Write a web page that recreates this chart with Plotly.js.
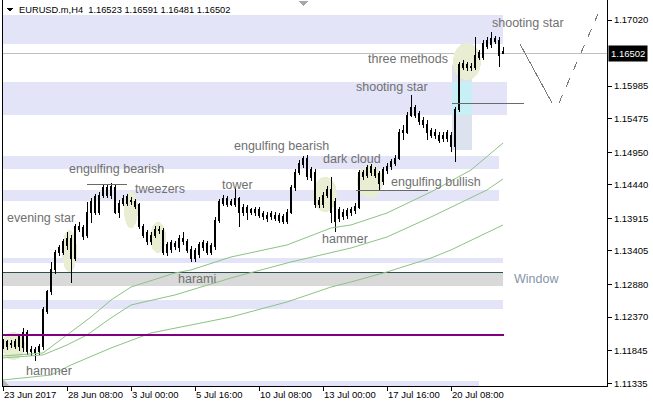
<!DOCTYPE html>
<html>
<head>
<meta charset="utf-8">
<script src="https://cdn.plot.ly/plotly-3.0.1.min.js"></script>
<style>html,body{margin:0;padding:0;background:#fff;}#chart{width:653px;height:407px;}
#chart .boxlayer path{shape-rendering:crispEdges;}
#chart .shapelayer path{shape-rendering:crispEdges;}
</style>
</head>
<body>
<div id="chart"></div>
<script>
// ---- Data (EURUSD.m H4) ----
const openP = [1.11934,1.11981,1.11965,1.11918,1.11918,1.11887,1.12122,1.11825,1.11856,1.11825,
1.11903,1.12451,1.12764,1.13108,1.13452,1.13389,1.13484,1.13608,1.13295,1.13749,
1.13765,1.13640,1.14015,1.14250,1.14015,1.14281,1.14406,1.14266,1.14406,1.14015,
1.14156,1.14156,1.14203,1.14172,1.14125,1.13781,1.13687,1.13546,1.13655,1.13718,
1.13718,1.13389,1.13421,1.13515,1.13452,1.13608,1.13546,1.13436,1.13405,1.13343,
1.13452,1.13515,1.13389,1.13468,1.13890,1.14156,1.14234,1.14172,1.14125,1.14219,
1.14093,1.14000,1.14047,1.14000,1.14047,1.13984,1.13906,1.13984,1.13968,1.13953,
1.13937,1.13874,1.14015,1.14391,1.14641,1.14751,1.14860,1.14673,1.14641,1.14203,
1.14125,1.14281,1.14375,1.14172,1.14047,1.13937,1.13953,1.14000,1.14031,1.14093,
1.14563,1.14594,1.14720,1.14673,1.14610,1.14485,1.14657,1.14720,1.14782,1.14860,
1.15252,1.15267,1.15533,1.15643,1.15549,1.15455,1.15392,1.15283,1.15267,1.15220,
1.15158,1.15158,1.15220,1.15033,1.15612,1.16347,1.16316,1.16269,1.16284,1.16441,
1.16441,1.16613,1.16629,1.16691,1.16707,1.16523];
const highP = [1.12028,1.12012,1.12012,1.12028,1.12106,1.12200,1.12169,1.11918,1.11903,1.11950,
1.12529,1.12795,1.13233,1.13421,1.13499,1.13593,1.13702,1.13655,1.13828,1.13859,
1.13812,1.14172,1.14234,1.14297,1.14328,1.14438,1.14453,1.14469,1.14438,1.14203,
1.14281,1.14297,1.14250,1.14219,1.14156,1.13828,1.13734,1.13702,1.13796,1.13796,
1.13765,1.13546,1.13577,1.13562,1.13655,1.13702,1.13593,1.13484,1.13452,1.13546,
1.13577,1.13562,1.13531,1.13937,1.14219,1.14281,1.14266,1.14219,1.14391,1.14250,
1.14140,1.14125,1.14078,1.14093,1.14093,1.14031,1.14015,1.14031,1.14015,1.14000,
1.13984,1.14062,1.14438,1.14688,1.14829,1.14892,1.14907,1.14720,1.14688,1.14250,
1.14328,1.14422,1.14563,1.14234,1.14093,1.14062,1.14078,1.14093,1.14156,1.14673,
1.14673,1.14751,1.14766,1.14720,1.14657,1.14720,1.14782,1.14845,1.14907,1.15314,
1.15377,1.15580,1.15846,1.15690,1.15596,1.15502,1.15455,1.15330,1.15314,1.15267,
1.15267,1.15299,1.15267,1.15658,1.16363,1.16394,1.16363,1.16347,1.16754,1.16551,
1.16707,1.16754,1.16833,1.16770,1.16754,1.16591];
const lowP = [1.11871,1.11856,1.11887,1.11871,1.11840,1.11825,1.11778,1.11762,1.11684,1.11778,
1.11856,1.12419,1.12717,1.13045,1.13327,1.13343,1.13421,1.12904,1.13248,1.13702,
1.13577,1.13608,1.13843,1.13968,1.13968,1.14234,1.14234,1.14219,1.13984,1.13921,
1.14109,1.14109,1.14125,1.14062,1.13749,1.13608,1.13499,1.13499,1.13608,1.13671,
1.13343,1.13327,1.13374,1.13421,1.13389,1.13499,1.13374,1.13233,1.13233,1.13295,
1.13405,1.13343,1.13343,1.13421,1.13843,1.14109,1.14093,1.14109,1.14093,1.13781,
1.13953,1.13890,1.13968,1.13953,1.13921,1.13890,1.13859,1.13890,1.13874,1.13843,
1.13828,1.13828,1.13984,1.14344,1.14594,1.14704,1.14516,1.14500,1.14078,1.14078,
1.14078,1.14234,1.13843,1.13702,1.13859,1.13890,1.13906,1.13953,1.13984,1.14062,
1.14516,1.14548,1.14579,1.14548,1.14344,1.14438,1.14610,1.14673,1.14735,1.14829,
1.15142,1.15236,1.15502,1.15486,1.15377,1.15330,1.15142,1.15173,1.15158,1.15095,
1.15111,1.15111,1.14955,1.14798,1.15580,1.16238,1.16222,1.16222,1.16238,1.16394,
1.16394,1.16566,1.16582,1.16644,1.16284,1.16481];
const closeP = [1.11981,1.11918,1.11934,1.11981,1.12059,1.12122,1.11825,1.11871,1.11809,1.11918,
1.12482,1.12764,1.13108,1.13374,1.13374,1.13546,1.13608,1.13295,1.13781,1.13796,
1.13624,1.14015,1.14172,1.14015,1.14281,1.14391,1.14281,1.14422,1.14015,1.14156,
1.14234,1.14250,1.14172,1.14109,1.13781,1.13655,1.13546,1.13655,1.13749,1.13749,
1.13389,1.13499,1.13531,1.13468,1.13608,1.13546,1.13405,1.13295,1.13295,1.13499,
1.13531,1.13389,1.13484,1.13890,1.14172,1.14234,1.14125,1.14140,1.14219,1.14015,
1.14000,1.14078,1.14015,1.14047,1.13968,1.13937,1.13968,1.13937,1.13921,1.13890,
1.13874,1.14015,1.14391,1.14641,1.14782,1.14845,1.14563,1.14548,1.14125,1.14125,
1.14281,1.14375,1.14015,1.13859,1.13921,1.14015,1.14031,1.14047,1.14109,1.14626,
1.14626,1.14704,1.14626,1.14594,1.14469,1.14673,1.14735,1.14798,1.14860,1.15267,
1.15283,1.15533,1.15643,1.15533,1.15424,1.15377,1.15267,1.15220,1.15205,1.15142,
1.15220,1.15252,1.15033,1.15612,1.16316,1.16284,1.16269,1.16300,1.16472,1.16504,
1.16660,1.16707,1.16723,1.16723,1.16472,1.16502];

// moving averages (bar index, price)
const maFastIdx = [0,10,16,22,27,32,43,47,57,71,82,87,96,107,117,125];
const maFast = [1.11762,1.11809,1.12091,1.12372,1.12638,1.12841,1.13061,1.13108,1.13311,1.13499,1.13765,1.13812,1.14000,1.14329,1.14673,1.15095];
const maMidIdx = [0,10,16,21,27,32,43,57,72,82,87,96,107,121,125];
const maMid = [1.11731,1.11778,1.11934,1.12091,1.12357,1.12560,1.12717,1.12983,1.13233,1.13374,1.13452,1.13624,1.13937,1.14360,1.14532];
const maSlowIdx = [0,12,17,27,37,47,57,71,82,87,96,107,112,125];
const maSlow = [1.11386,1.11464,1.11621,1.11887,1.12122,1.12247,1.12372,1.12607,1.12841,1.12920,1.13077,1.13295,1.13421,1.13812];

// axis ticks
const xTickIdx = [0,16,32,48,64,80,96,112];
const xTickText = ["23 Jun 2017","28 Jun 08:00","3 Jul 00:00","5 Jul 16:00","10 Jul 08:00","13 Jul 00:00","17 Jul 16:00","20 Jul 08:00"];
const yTickVals = [1.17020,1.15985,1.15475,1.14950,1.14440,1.13915,1.13405,1.12880,1.12370,1.11845,1.11335];
const yTickText = ["1.17020","1.15985","1.15475","1.14950","1.14440","1.13915","1.13405","1.12880","1.12370","1.11845","1.11335"];

const lastPrice = 1.16502;
const headerText = "EURUSD.m,H4  1.16523 1.16591 1.16481 1.16502";

// zones (bar index start/end, price top/bottom)
const zones = [
  [-0.25,125,1.17098,1.16644],
  [-0.25,126,1.16050,1.15533],
  [-0.25,124,1.14892,1.14688],
  [-0.25,124,1.14360,1.14187],
  [-0.25,125,1.13295,1.13217],
  [-0.25,125,1.12638,1.12497],
  [-0.25,119,1.11370,1.11292]
];
const windowZone = [-0.25,125,1.13076,1.12857];
const purpleLevel = 1.12090;

const patterns = [
  [-0.25,5.5,1.12137,1.11699],
  [14.75,18.5,1.13734,1.13076],
  [30.25,33.75,1.14328,1.13765],
  [36.75,40.75,1.13859,1.13374],
  [77.5,83.5,1.14563,1.14015],
  [88.5,95,1.14751,1.14234],
  [112.5,119.5,1.16660,1.16081]
];

const labels = [
  ["shooting star",121.75,1.16974],
  ["three methods",90.75,1.16410],
  ["shooting star",87.75,1.15971],
  ["engulfing bearish",57.25,1.15048],
  ["dark cloud",79.5,1.14845],
  ["engulfing bearish",16,1.14688],
  ["tweezers",32.5,1.14375],
  ["tower",54.25,1.14438],
  ["engulfing bullish",96.5,1.14485],
  ["evening star",0.5,1.13921],
  ["hammer",79.25,1.13593],
  ["harami",43.25,1.12967],
  ["hammer",5.25,1.11527]
];

// ---- Build ----
const idx = openP.map((_, i) => i);
const traces = [
  {type:'scatter',mode:'lines',x:maSlowIdx,y:maSlow,line:{color:'#8cc384',width:1},hoverinfo:'skip'},
  {type:'scatter',mode:'lines',x:maMidIdx,y:maMid,line:{color:'#8cc384',width:1},hoverinfo:'skip'},
  {type:'scatter',mode:'lines',x:maFastIdx,y:maFast,line:{color:'#8cc384',width:1},hoverinfo:'skip'},
  {type:'candlestick',x:idx,open:openP,high:highP,low:lowP,close:closeP,
   increasing:{line:{color:'#000',width:1},fillcolor:'#ffffff'},
   decreasing:{line:{color:'#000',width:1},fillcolor:'#000000'},
   whiskerwidth:0,hoverinfo:'skip'}
];

const shapes = [];
zones.forEach(z => shapes.push({type:'rect',layer:'below',x0:z[0],x1:z[1],y0:z[3],y1:z[2],fillcolor:'#e4e4f8',line:{width:0}}));
shapes.push({type:'rect',layer:'below',x0:windowZone[0],x1:windowZone[1],y0:windowZone[3],y1:windowZone[2],fillcolor:'#d9d9d9',line:{width:0}});
shapes.push({type:'line',layer:'below',x0:windowZone[0],x1:windowZone[1],y0:windowZone[2],y1:windowZone[2],line:{color:'#2f4f4f',width:1}});
// blue-cyan rectangle
shapes.push({type:'rect',layer:'below',x0:112.25,x1:117.25,y0:1.14986,y1:1.16316,fillcolor:'#dce3ef',line:{width:0}});
shapes.push({type:'rect',layer:'below',x0:112.25,x1:117.25,y0:1.15533,y1:1.16050,fillcolor:'#c6f0f6',line:{width:0}});
patterns.forEach(p => shapes.push({type:'circle',layer:'below',x0:p[0],x1:p[1],y0:p[3],y1:p[2],fillcolor:'#e9edd2',line:{width:0}}));
// price line
shapes.push({type:'line',layer:'below',xref:'paper',x0:0,x1:1,y0:lastPrice,y1:lastPrice,line:{color:'#c0c0c0',width:1}});
// purple level
shapes.push({type:'line',x0:-0.25,x1:125.25,y0:purpleLevel,y1:purpleLevel,line:{color:'#800080',width:2.5}});
// trend/support segments
shapes.push({type:'line',x0:21,x1:31,y0:1.14453,y1:1.14453,line:{color:'#6a6a6a',width:1}});
shapes.push({type:'line',x0:88.25,x1:106.25,y0:1.14344,y1:1.14344,line:{color:'#6a6a6a',width:1}});
shapes.push({type:'line',x0:112.25,x1:130.25,y0:1.15706,y1:1.15706,line:{color:'#6a6a6a',width:1}});
shapes.push({type:'line',x0:129.25,x1:137.25,y0:1.16644,y1:1.15721,line:{color:'#7a7a7a',width:1}});
shapes.push({type:'line',x0:139,x1:148.75,y0:1.15721,y1:1.17114,line:{color:'#7a7a7a',width:1,dash:'dash'}});
// left border
shapes.push({type:'line',xref:'paper',yref:'paper',x0:0,x1:0,y0:0,y1:1,line:{color:'#000',width:1}});
// pixel-anchored markers
const px = X => (X - 2) / 605, py = Y => 1 - Y / 386;
shapes.push({type:'path',xref:'paper',yref:'paper',path:`M${px(7)},${py(8)} L${px(13)},${py(8)} L${px(10)},${py(12)} Z`,fillcolor:'#000',line:{width:0}});
shapes.push({type:'path',xref:'paper',yref:'paper',path:`M${px(299)},${py(1)} L${px(308)},${py(1)} L${px(303.5)},${py(6)} Z`,fillcolor:'#a8a8a8',line:{width:0}});
shapes.push({type:'path',xref:'paper',yref:'paper',path:`M${px(3)},${py(380)} L${px(3)},${py(386)} L${px(9)},${py(386)} Z`,fillcolor:'#b4b4b4',line:{width:0}});

const annotations = labels.map(l => ({text:l[0],x:l[1],y:l[2],xanchor:'left',yanchor:'middle',showarrow:false,
  font:{family:'Liberation Sans, Arial, sans-serif',size:12.5,color:'#707070'}}));
annotations.push({text:'Window',x:127.25,y:1.12967,xanchor:'left',yanchor:'middle',showarrow:false,
  font:{family:'Liberation Sans, Arial, sans-serif',size:12.5,color:'#8794aa'}});
annotations.push({text:headerText,xref:'paper',yref:'paper',x:px(17),y:py(10),xanchor:'left',yanchor:'middle',showarrow:false,
  font:{family:'Liberation Sans, Arial, sans-serif',size:9.3,color:'#000'}});
annotations.push({text:'1.16502',xref:'paper',x:1,xshift:1,y:lastPrice,xanchor:'left',yanchor:'middle',showarrow:false,
  bgcolor:'#000',borderpad:2,font:{family:'Liberation Sans, Arial, sans-serif',size:9.5,color:'#fff'}});

const layout = {
  width:653,height:407,
  margin:{l:2,r:46,t:0,b:21,pad:0},
  paper_bgcolor:'#fff',plot_bgcolor:'#fff',
  showlegend:false,
  dragmode:false,
  xaxis:{range:[-0.25,151],showgrid:false,zeroline:false,showline:true,linecolor:'#000',linewidth:1,
    ticks:'outside',ticklen:4,tickcolor:'#000',tickvals:xTickIdx,ticktext:xTickText,
    ticklabelposition:'outside right',
    tickfont:{family:'Liberation Sans, Arial, sans-serif',size:9.5,color:'#000'},
    rangeslider:{visible:false},fixedrange:true},
  yaxis:{range:[1.11292,1.17333],side:'right',showgrid:false,zeroline:false,showline:true,linecolor:'#000',linewidth:1,
    ticks:'outside',ticklen:4,tickcolor:'#000',tickvals:yTickVals,ticktext:yTickText,
    tickfont:{family:'Liberation Sans, Arial, sans-serif',size:9.5,color:'#000'},fixedrange:true},
  shapes:shapes,
  annotations:annotations
};

Plotly.newPlot('chart',traces,layout,{displayModeBar:false,staticPlot:true});
</script>
</body>
</html>
